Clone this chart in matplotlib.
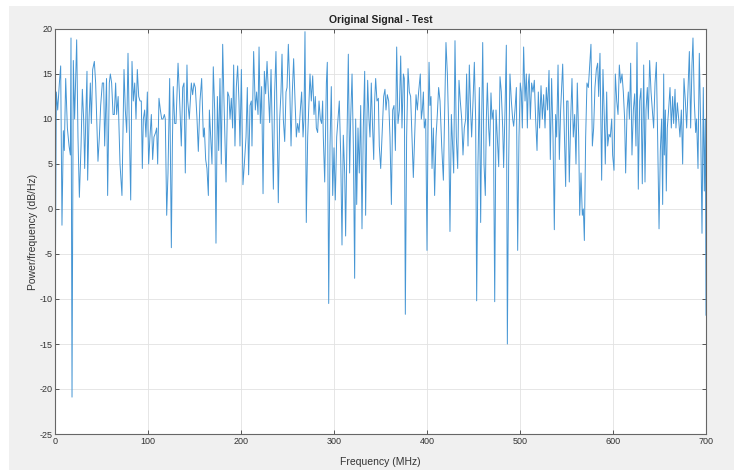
import matplotlib
matplotlib.use('Agg')
import matplotlib.pyplot as plt
from matplotlib.patches import Rectangle

# values, frequency in MHz and power in dB/Hz
freq_mhz = [
    0, 1.4, 2.9, 4.7, 6.1, 7.5, 9.0, 10.0, 11.5, 13.3,
    15.1, 16.5, 17.2, 18.3, 19.7, 21.1, 23.3, 24.7, 26.2, 28.0,
    29.4, 30.8, 31.9, 33.3, 34.4, 35.1, 36.6, 38.0, 39.1, 40.5,
    42.3, 43.7, 44.8, 46.2, 47.7, 49.1, 50.9, 52.3, 53.4, 55.4,
    56.6, 58.4, 59.5, 60.9, 62.4, 63.8, 65.2, 66.3, 67.9, 69.9,
    72.0, 74.2, 75.6, 77.1, 78.5, 79.9, 81.4, 82.8, 84.2, 85.7,
    87.1, 88.5, 90.0, 91.4, 92.8, 93.9, 95.0, 96.4, 97.8, 99.3,
    100.7, 102.1, 103.6, 105.0, 106.4, 108.2, 109.3, 110.4, 111.8, 113.3,
    114.7, 116.1, 117.6, 118.6, 120.1, 121.5, 123.3, 125.1, 126.2, 127.2,
    128.7, 130.1, 132.3, 133.7, 135.8, 137.3, 138.7, 140.1, 141.9, 142.7,
    144.4, 146.6, 148.0, 149.5, 150.9, 152.7, 154.1, 155.9, 157.7, 159.5,
    160.6, 162.0, 163.4, 164.9, 166.0, 167.4, 168.8, 170.2, 171.7, 173.1,
    174.6, 176.0, 177.4, 178.8, 180.3, 181.7, 183.9, 185.7, 187.1, 188.2,
    189.6, 191.0, 192.1, 193.5, 195.0, 196.4, 197.8, 198.9, 200.4, 202.1,
    203.6, 205.4, 206.8, 208.2, 209.7, 211.1, 211.8, 213.6, 215.4, 216.8,
    218.3, 219.4, 220.8, 222.2, 223.7, 225.1, 226.5, 228.0, 229.4, 230.8,
    232.3, 233.3, 234.8, 236.2, 237.6, 239.1, 240.1, 241.6, 243.0, 244.1,
    245.5, 247.0, 248.4, 249.5, 250.9, 252.3, 253.8, 255.2, 256.6, 258.1,
    259.5, 260.9, 262.4, 263.8, 265.2, 266.7, 267.7, 268.8, 270.2, 271.7,
    272.8, 274.2, 275.6, 277.1, 278.5, 279.9, 281.0, 282.4, 283.9, 285.3,
    286.7, 287.8, 288.5, 290.0, 291.8, 292.8, 294.3, 295.7, 297.1, 298.6,
    300.0, 301.4, 302.9, 304.3, 305.7, 307.2, 308.6, 310.0, 311.5, 312.5,
    314.0, 315.4, 316.8, 317.9, 319.4, 320.8, 322.2, 323.3, 324.4, 325.8,
    327.2, 328.7, 330.1, 331.5, 333.0, 334.0, 335.1, 336.2, 337.6, 338.7,
    340.1, 341.2, 342.7, 343.7, 344.8, 346.2, 347.7, 348.7, 350.2, 351.6,
    353.4, 354.8, 355.9, 357.3, 358.8, 360.2, 361.7, 363.1, 364.5, 366.0,
    367.4, 368.8, 370.3, 371.7, 373.1, 374.6, 375.6, 376.7, 378.1, 379.6,
    381.0, 382.4, 383.9, 385.3, 386.7, 388.2, 389.6, 391.0, 392.8, 393.9,
    395.0, 396.1, 397.1, 398.6, 400.0, 401.1, 402.2, 403.2, 404.3, 405.4,
    406.8, 408.2, 409.7, 411.1, 412.5, 414.0, 415.8, 417.6, 419.0, 420.4,
    421.9, 423.3, 424.7, 426.2, 427.6, 428.7, 430.1, 431.5, 433.0, 434.4,
    435.8, 437.3, 438.7, 440.1, 441.6, 442.6, 444.1, 445.5, 446.9, 448.0,
    449.5, 450.9, 452.3, 453.4, 454.8, 456.3, 457.7, 458.8, 459.9, 461.3,
    462.7, 463.8, 464.9, 466.3, 467.4, 468.8, 469.9, 471.3, 472.8, 474.2,
    475.6, 477.1, 478.5, 479.9, 481.4, 482.4, 483.9, 485.3, 486.4, 487.8,
    489.2, 490.7, 492.1, 493.2, 494.6, 496.1, 497.5, 498.9, 500.3, 501.4,
    502.5, 503.9, 505.4, 506.8, 507.9, 509.0, 509.9, 511.1, 512.5, 514.0,
    515.4, 516.8, 518.3, 519.7, 521.1, 522.6, 524.0, 525.4, 526.9, 528.3,
    529.7, 531.2, 532.6, 534.0, 535.5, 536.9, 538.3, 539.4, 540.9, 542.3,
    543.7, 545.9, 547.3, 549.1, 550.2, 551.6, 553.0, 554.5, 555.9, 557.3,
    558.8, 560.2, 561.6, 563.1, 564.2, 565.6, 567.0, 568.1, 569.2, 570.6,
    572.0, 573.5, 574.9, 576.3, 577.8, 579.2, 580.6, 582.1, 583.5, 584.6,
    586.0, 587.8, 589.2, 590.7, 591.7, 593.2, 594.3, 595.7, 597.1, 598.6,
    599.6, 601.1, 602.5, 604.0, 605.4, 606.8, 608.2, 609.7, 611.1, 612.5,
    613.6, 615.1, 616.5, 617.6, 619.0, 620.4, 621.9, 623.3, 624.7, 625.8,
    627.2, 628.7, 630.1, 631.5, 633.0, 634.4, 635.5, 636.9, 638.0, 639.4,
    640.9, 642.3, 643.7, 645.2, 646.6, 648.0, 649.5, 650.9, 652.3, 653.4,
    654.5, 655.2, 656.3, 657.3, 658.4, 659.8, 661.3, 662.7, 664.1, 665.2,
    666.7, 667.7, 669.2, 670.6, 672.0, 673.5, 674.9, 676.3, 677.8, 679.2,
    680.6, 682.1, 683.5, 684.9, 686.0, 687.4, 688.9, 689.9, 691.4, 692.8,
    694.3, 695.7, 697.1, 698.2, 699.3, 700.0,
]
power_db = [
    -15.5, 13, 11, 14, 15.9, -1.8, 8.7, 6.5, 14.5, 9,
    7, 6, 19, -20.9, 16.5, 10, 18.8, 8, 1.3, 7,
    13.3, 10, 4.5, 11, 15.3, 3.2, 10, 14, 9.5, 15.5,
    16.4, 14, 10, 5.3, 8, 11.5, 14, 14, 7, 14.5,
    1.5, 14, 15, 14, 10.5, 10.5, 14, 10.5, 12.5, 5,
    1.5, 15.5, 11, 8.5, 17.3, 9, 1, 16.4, 12, 14,
    10, 15.5, 12.5, 12, 12, 4.5, 10, 11, 8, 13,
    5, 8, 10.5, 5.5, 8, 8.5, 9, 5, 12.3, 11,
    10, 10, 10.5, 10, -0.7, 4, 14.5, -4.3, 7, 13.6,
    9.5, 9.5, 16.2, 13, 7, 13.5, 14, 4, 16, 12,
    10, 14, 12.7, 14, 13.5, 10, 6.4, 12, 14.5, 8,
    9, 5.5, 4.5, 1.5, 11, 8, 5, 15.8, 11, -3.8,
    12.5, 6.5, 14.5, 5, 18.3, 12, 3, 13, 12.5, 10,
    12.3, 9, 16, 7, 13.6, 15.9, 12, 7, 15.5, 2.7,
    5, 8, 13.5, 3.8, 11.5, 12, 7, 17.5, 11, 13,
    10.5, 18, 9.5, 13.6, 1.7, 15.3, 12.8, 16.4, 13, 9.6,
    15.5, 10, 2.2, 13, 17.5, 8, 0.7, 10, 13, 17.2,
    10, 7.5, 13, 13.5, 18.3, 14, 7, 13, 16.7, 12,
    8, 9.5, 8.5, 11, 13, 8, 10, 19.7, -1.5, 8,
    11, 15, 12, 14.8, 10.5, 12.5, 9, 8.5, 12, 10,
    9.5, 12, 8, 3, 14, 16.3, -10.5, 7, 13.6, 1.5,
    6.8, 1, 8, 10, 12, 6, -4, 8.2, 4, -3,
    8, 17.2, 4, 10, 15, 7, -7.7, 10, 0.5, 9,
    4, 11.5, -2.2, 9, 15.3, -0.7, 8, 14.3, 10, 8,
    14, 10, 5.5, 12, 14.5, 12, 12.3, 7, 4.5, 8,
    12.5, 13.3, 11, 12.7, 12, 8, 0.5, 11, 11.5, 6.5,
    18, 9.5, 11, 17, 9, 15, 14.5, -11.7, 8, 15.6,
    13, 12.5, 8, 3.5, 8, 12.7, 11, 13, 15, 10,
    11, 13, 9, 10, -4.6, 9, 16.3, 11.5, 12.5, 4.5,
    9, 1.5, 8, 10.5, 13.5, 12, 7, 3.2, 11, 18.5,
    15, 9, -2.5, 10.5, 7, 4, 18.7, 8, 4.5, 14.3,
    12, 10, 6, 9, 10, 15, 7, 16, 11, 8,
    12, 16.3, 10, -10.2, 5, 13.5, -1.5, 10, 18.5, 5,
    1.5, 10, 14, 9, 7, 12.9, 10, 11, -10.3, 11,
    8, 4.7, 14.7, 13, 9, 4.6, 11, 18.2, -15, 5,
    15, 12, 10, 9.2, 11, 13.5, -4.6, 8, 14, 13,
    9, 18, 12, 15, 9, 14, 15, 10, 14, 13,
    14.3, 10, 6.5, 13, 9, 13.7, 10, 12.7, 9, 13.5,
    11, 15.4, 5.5, 14.5, 8, -2.3, 10.5, 8, 16, 5.5,
    11, 16.1, 10, 2.5, 12, 12, 3, 10, 14.5, 8,
    10.5, 5, 14, 8, -0.7, 4, -0.7, 0, -3.5, 8,
    14, 13.5, 16, 18.3, 7, 9, 13.5, 15.5, 16.2, 12.5,
    17.3, 3.2, 15.5, 10, 5, 13, 7, 8.3, 8, 10,
    6, 4.3, 15, 12, 10.5, 16, 14, 15, 13, 10,
    4, 11, 13, 10, 16.2, 6, 11, 12.8, 7, 18.5,
    2.2, 12, 13.4, 2.8, 16, 3, 11, 13.5, 10, 16.5,
    13, 11, 9, 14, 16.3, 8, -2.2, 6.5, 10, 0.5,
    15, 6, 11, 2, 9, 11, 13.5, 9, 12.5, 9.5,
    13.3, 9, 11.8, 10, 8, 11, 5, 14.5, 12, 9,
    13, 17.5, 9, 16, 19, 12, 8.5, 10, 4.5, 17.3,
    9, -2.7, 13.5, 2, 10, -11.8,
]
x_ticks = [0, 100, 200, 300, 400, 500, 600, 700]
y_ticks = [-25, -20, -15, -10, -5, 0, 5, 10, 15, 20]

plt.rcParams['font.family'] = ['Liberation Sans Narrow', 'Liberation Sans', 'DejaVu Sans']
plt.rcParams['axes.unicode_minus'] = False

W, H = 734, 473
fig = plt.figure(figsize=(W / 100, H / 100), dpi=100, facecolor='white')
# grey figure panel like the MATLAB window
fig.patches.append(Rectangle((9 / W, 3 / H), 1 - 9 / W, 464 / H,
                             transform=fig.transFigure, facecolor='#f0f0f0',
                             edgecolor='none', zorder=-1))

ax = fig.add_axes([55 / W, 1 - 434 / H, 651 / W, 405 / H])
ax.set_facecolor('white')
ax.plot(freq_mhz, power_db, color='#4696d4', lw=0.7)

ax.set_xlim(0, 700)
ax.set_ylim(-25, 20)
ax.set_xticks(x_ticks)
ax.set_yticks(y_ticks)
ax.set_axisbelow(True)
ax.grid(True, color='#e2e2e2', lw=0.6)
ax.tick_params(direction='in', top=True, right=True, length=3, width=0.7,
               colors='#555555', labelcolor='#333333', labelsize=6.5, pad=2)
for s in ax.spines.values():
    s.set_color('#666666')
    s.set_linewidth(0.8)

ax.set_title('Original Signal - Test', fontsize=7.5, fontweight='bold',
             color='#222222', pad=4)
ax.set_xlabel('Frequency (MHz)', fontsize=7.5, color='#333333')
ax.set_ylabel('Power/frequency (dB/Hz)', fontsize=7.5, color='#333333')
ax.xaxis.set_label_coords(0.5, -0.057)
ax.yaxis.set_label_coords(-0.026, 0.5)

fig.savefig('out.png', dpi=100, facecolor=fig.get_facecolor())
